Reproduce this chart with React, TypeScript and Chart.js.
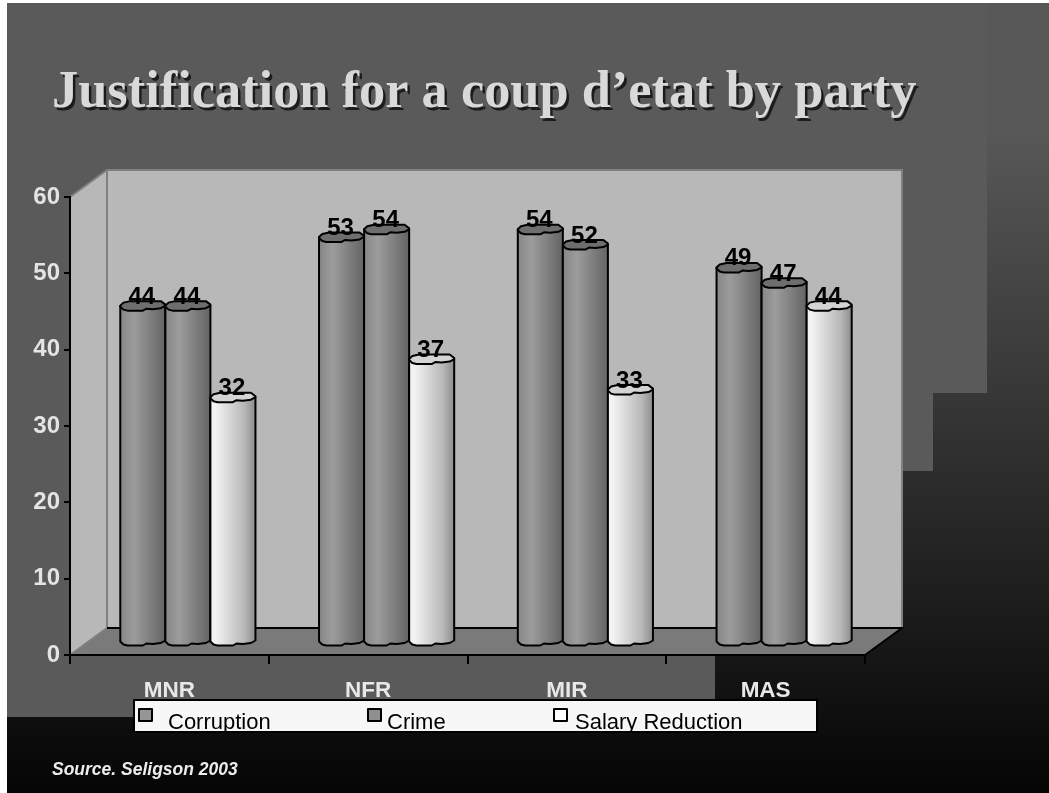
import React, { useEffect, useRef } from "react";
import { Chart, registerables } from "chart.js";

Chart.register(...registerables);

const TITLE = "Justification for a coup d’etat by party";
const SOURCE = "Source. Seligson 2003";
const parties = ["MNR", "NFR", "MIR", "MAS"];
const corruption = [44, 53, 54, 49];
const crime = [44, 54, 52, 47];
const salaryReduction = [32, 37, 33, 44];
const yTicks = [0, 10, 20, 30, 40, 50, 60];

const SANS = "'Liberation Sans', Arial, sans-serif";
const SERIF = "'Liberation Serif', 'Times New Roman', serif";

const DEPTH_X = 37;
const DEPTH_Y = 27;
const BAR_DX = 18.5;
const BAR_DY = 13.5;

const DARK_STOPS: [number, string][] = [
  [0, "#868686"], [0.3, "#9c9c9c"], [0.6, "#848484"], [1, "#646464"],
];
const LIGHT_STOPS: [number, string][] = [
  [0, "#f4f4f4"], [0.12, "#f2f2f2"], [0.5, "#cfcfcf"], [0.75, "#b8b8b8"], [1, "#8c8c8c"],
];
const FRONT_WAVE: [number, number][] = [
  [0, 1], [0.07, 4], [0.16, 5], [0.5, 5], [0.58, 3], [0.72, 3.5], [0.9, 2.5], [1, 0],
];
const BACK_WAVE: [number, number][] = [
  [0, 0], [0.07, -3], [0.22, -4.5], [0.9, -4.5], [1, -1],
];

function polygon(ctx: CanvasRenderingContext2D, pts: number[][], fill?: string, stroke?: string, lw = 2) {
  ctx.beginPath();
  pts.forEach(([x, y], i) => (i ? ctx.lineTo(x, y) : ctx.moveTo(x, y)));
  ctx.closePath();
  if (fill) { ctx.fillStyle = fill; ctx.fill(); }
  if (stroke) { ctx.strokeStyle = stroke; ctx.lineWidth = lw; ctx.stroke(); }
}

const scenePlugin = {
  id: "scene",
  beforeDraw(chart: any) {
    const { ctx, width, height, chartArea: a } = chart;
    ctx.save();
    ctx.fillStyle = "#ffffff";
    ctx.fillRect(0, 0, width, height);
    const g = ctx.createLinearGradient(0, 130, 0, 793);
    g.addColorStop(0, "#585858");
    g.addColorStop(1, "#050505");
    ctx.fillStyle = g;
    ctx.fillRect(7, 3, width - 7, height - 3);
    polygon(ctx, [[7, 3], [987, 3], [987, 393], [933, 393], [933, 471], [903, 471], [903, 628], [865, 655], [715, 655], [715, 717], [7, 717]], "#5a5a5a");

    // Title with its hard shadow
    ctx.font = `bold 52.4px ${SERIF}`;
    ctx.textAlign = "left";
    ctx.textBaseline = "alphabetic";
    ctx.fillStyle = "#1c1c1c";
    ctx.fillText(TITLE, 54.5, 109.5);
    ctx.fillStyle = "#d9d9d9";
    ctx.fillText(TITLE, 52, 107);

    // 3D box
    const L = a.left, R = a.right, T = a.top, B = a.bottom;
    const dx = DEPTH_X, dy = DEPTH_Y;
    polygon(ctx, [[L, T], [L + dx, T - dy], [L + dx, B - dy], [L, B]], "#b8b8b8");
    polygon(ctx, [[L + dx, T - dy], [R + dx, T - dy], [R + dx, B - dy], [L + dx, B - dy]], "#b8b8b8", "#808080", 2);
    polygon(ctx, [[L, B], [L + dx, B - dy], [R + dx, B - dy], [R, B]], "#7a7a7a");
    ctx.lineWidth = 2;
    ctx.strokeStyle = "#808080";
    ctx.beginPath(); ctx.moveTo(L, T); ctx.lineTo(L + dx, T - dy); ctx.stroke();
    ctx.beginPath(); ctx.moveTo(L, B); ctx.lineTo(L + dx, B - dy); ctx.stroke();
    ctx.strokeStyle = "#000000";
    ctx.beginPath(); ctx.moveTo(L + dx, B - dy); ctx.lineTo(R + dx, B - dy); ctx.lineTo(R, B); ctx.stroke();
    ctx.restore();
  },
  beforeDatasetsDraw(chart: any) {
    const { ctx } = chart;
    ctx.save();
    ctx.lineJoin = "round";
    chart.data.datasets.forEach((ds: any, di: number) => {
      const stops = ds.backgroundColor === "#ffffff" ? LIGHT_STOPS : DARK_STOPS;
      const top = ds.backgroundColor === "#ffffff" ? "#d4d4d4" : "#6e6e6e";
      chart.getDatasetMeta(di).data.forEach((el: any) => {
        const x0 = el.x - el.width / 2 + BAR_DX;
        const x1 = el.x + el.width / 2 + BAR_DX;
        const w = x1 - x0;
        const ty = el.y - BAR_DY;
        const by = el.base - BAR_DY;
        const g = ctx.createLinearGradient(x0, 0, x1, 0);
        stops.forEach(([p, c]) => g.addColorStop(p, c));
        const front = (y: number) => [...FRONT_WAVE].map(([f, d]) => [x0 + f * w, y + d]);
        // body
        ctx.beginPath();
        ctx.moveTo(x0, ty);
        ctx.lineTo(x0, by);
        front(by).forEach(([x, y]) => ctx.lineTo(x, y));
        ctx.lineTo(x1, ty);
        ctx.closePath();
        ctx.fillStyle = g;
        ctx.fill();
        ctx.strokeStyle = "#000000";
        ctx.lineWidth = 2;
        ctx.stroke();
        // top
        ctx.beginPath();
        ctx.moveTo(x0, ty);
        BACK_WAVE.forEach(([f, d]) => ctx.lineTo(x0 + f * w, ty + d));
        [...front(ty)].reverse().forEach(([x, y]) => ctx.lineTo(x, y));
        ctx.closePath();
        ctx.fillStyle = top;
        ctx.fill();
        ctx.stroke();
      });
    });
    // Value labels
    ctx.font = `bold 24px ${SANS}`;
    ctx.textAlign = "center";
    ctx.textBaseline = "alphabetic";
    ctx.fillStyle = "#000000";
    chart.data.datasets.forEach((ds: any, di: number) => {
      chart.getDatasetMeta(di).data.forEach((el: any, i: number) => {
        ctx.fillText(String(ds.data[i]), el.x + BAR_DX - 1, el.y - BAR_DY - 2);
      });
    });

    // Legend box, clipped at its bottom edge like the reference
    const box = { x: 133, y: 699, w: 685, h: 33 };
    ctx.fillStyle = "#000000";
    ctx.fillRect(box.x, box.y, box.w, box.h + 1);
    ctx.fillStyle = "#f7f7f7";
    ctx.fillRect(box.x + 2, box.y + 2, box.w - 4, box.h - 3);
    const swatches = [138, 367, 553];
    const labels = [168, 387, 575];
    ctx.save();
    ctx.beginPath();
    ctx.rect(box.x + 2, box.y + 2, box.w - 4, box.h - 3);
    ctx.clip();
    chart.data.datasets.forEach((ds: any, di: number) => {
      ctx.fillStyle = ds.backgroundColor;
      ctx.fillRect(swatches[di] + 1, 709, 13, 12);
      ctx.strokeStyle = "#000000";
      ctx.lineWidth = 2;
      ctx.strokeRect(swatches[di] + 1, 709, 13, 12);
      ctx.fillStyle = "#000000";
      ctx.font = `22px ${SANS}`;
      ctx.textAlign = "left";
      ctx.fillText(ds.label, labels[di], 729);
    });
    ctx.restore();

    // Source note
    ctx.font = `italic bold 17.5px ${SANS}`;
    ctx.textAlign = "left";
    ctx.fillStyle = "#ececec";
    ctx.fillText(SOURCE, 52, 775);
    ctx.restore();
    return false;
  },
};

export default function App() {
  const ref = useRef<HTMLCanvasElement>(null);
  useEffect(() => {
    const chart = new Chart(ref.current!, {
      type: "bar",
      data: {
        labels: parties,
        datasets: [
          { label: "Corruption", data: corruption, backgroundColor: "#969696" },
          { label: "Crime", data: crime, backgroundColor: "#8f8f8f" },
          { label: "Salary Reduction", data: salaryReduction, backgroundColor: "#ffffff" },
        ],
      },
      options: {
        animation: false,
        responsive: false,
        devicePixelRatio: 1,
        categoryPercentage: 0.68,
        barPercentage: 1,
        layout: { padding: { left: 0, right: 184, top: 197, bottom: 0 } },
        scales: {
          x: {
            offset: true,
            afterFit: (s: any) => { s.height = 138; },
            border: { color: "#000000", width: 2 },
            grid: { drawOnChartArea: false, color: "#000000", lineWidth: 2, tickLength: 9, offset: true },
            ticks: {
              color: "#e8e8e8",
              font: { family: SANS, size: 22.5, weight: "bold" },
              padding: 13,
              maxRotation: 0,
            },
          },
          y: {
            min: 0,
            max: 60,
            afterFit: (s: any) => { s.width = 70; },
            afterBuildTicks: (s: any) => { s.ticks = yTicks.map((value) => ({ value })); },
            border: { color: "#000000", width: 2 },
            grid: { drawOnChartArea: false, color: "#000000", lineWidth: 2, tickLength: 6 },
            ticks: {
              color: "#e4e4e4",
              font: { family: SANS, size: 24, weight: "bold" },
              padding: 4,
            },
          },
        },
        plugins: {
          legend: { display: false },
          tooltip: { enabled: false },
        },
      } as any,
      plugins: [scenePlugin as any],
    });
    return () => chart.destroy();
  }, []);
  return (
    <canvas
      ref={ref}
      width={1049}
      height={793}
      style={{ position: "absolute", left: 0, top: 0, display: "block" }}
    />
  );
}
